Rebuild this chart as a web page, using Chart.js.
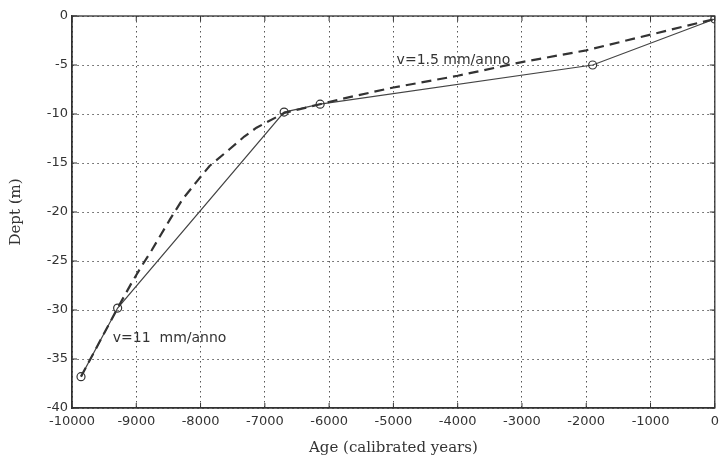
<!DOCTYPE html>
<html>
<head>
<meta charset="utf-8">
<script src="https://cdn.jsdelivr.net/npm/chart.js@4"></script>
<style>
  html, body { margin: 0; padding: 0; background: #fff; }
  #wrap { width: 720px; height: 457px; }
</style>
</head>
<body>
<div id="wrap"><canvas id="age-chart"></canvas></div>
<script>
// sample points (circles) joined by the solid line
const solidAge = [-9860, -9290, -6700, -6140, -1900, 0];
const solidDepth = [-36.8, -29.8, -9.8, -9.0, -5.0, -0.3];

// dashed curve
const dashedAge = [-9860, -9290, -9070, -8915, -8760, -8480, -8280, -8060, -7860, -7550, -7320, -7130, -6700, -6140, -5700, -5000, -4000, -3000, -2000, -1000, 0];
const dashedDepth = [-36.8, -29.8, -27.2, -25.5, -23.9, -20.8, -18.7, -16.9, -15.3, -13.6, -12.3, -11.4, -9.9, -9.0, -8.3, -7.3, -6.1, -4.7, -3.5, -1.9, -0.3];

// rate labels
const noteText = ['v=1.5 mm/anno', 'v=11  mm/anno'];
const noteAge = [-4950, -9365];
const noteDepth = [-4.5, -32.9];

const xTicks = { min: -10000, max: 0, step: 1000 };
const yTicks = { min: -40, max: 0, step: 5 };

const ink = '#333';
const toPoints = (xs, ys) => xs.map((x, i) => ({ x, y: ys[i] }));

// frame round the plot + inward tick marks, then the rate labels
const framePlugin = {
  id: 'frame',
  afterDraw(chart) {
    const { ctx, chartArea: a, scales: { x, y } } = chart;
    ctx.save();
    ctx.strokeStyle = ink;
    ctx.lineWidth = 1.3;
    ctx.strokeRect(a.left, a.top, a.right - a.left, a.bottom - a.top);
    ctx.lineWidth = 1;
    ctx.beginPath();
    x.ticks.forEach(t => {
      const px = x.getPixelForValue(t.value);
      ctx.moveTo(px, a.bottom); ctx.lineTo(px, a.bottom - 5);
      ctx.moveTo(px, a.top); ctx.lineTo(px, a.top + 5);
    });
    y.ticks.forEach(t => {
      const py = y.getPixelForValue(t.value);
      ctx.moveTo(a.left, py); ctx.lineTo(a.left + 5, py);
      ctx.moveTo(a.right, py); ctx.lineTo(a.right - 5, py);
    });
    ctx.stroke();

    ctx.fillStyle = ink;
    ctx.font = '14px "DejaVu Sans"';
    ctx.textBaseline = 'middle';
    ctx.textAlign = 'left';
    noteText.forEach((txt, i) => {
      ctx.fillText(txt, x.getPixelForValue(noteAge[i]), y.getPixelForValue(noteDepth[i]));
    });
    ctx.restore();
  }
};

new Chart(document.getElementById('age-chart'), {
  type: 'scatter',
  data: {
    datasets: [{
      label: 'dashed',
      data: toPoints(dashedAge, dashedDepth),
      showLine: true,
      borderColor: ink,
      borderWidth: 2.2,
      borderDash: [10, 6],
      pointRadius: 0,
      tension: 0
    }, {
      label: 'samples',
      data: toPoints(solidAge, solidDepth),
      showLine: true,
      borderColor: '#444',
      borderWidth: 1.2,
      pointRadius: 4,
      pointBorderWidth: 1.2,
      pointBorderColor: ink,
      pointBackgroundColor: 'rgba(255,255,255,0)',
      tension: 0
    }]
  },
  options: {
    responsive: true,
    maintainAspectRatio: false,
    animation: false,
    layout: { padding: { top: 16, right: 3, left: 0, bottom: 0 } },
    plugins: { legend: { display: false }, tooltip: { enabled: false } },
    scales: {
      x: {
        type: 'linear',
        min: xTicks.min,
        max: xTicks.max,
        // let the last "0" label run off the edge like the scan
        afterFit: s => { s.height = 49; s.paddingRight = 0; },
        ticks: {
          stepSize: xTicks.step,
          color: ink,
          padding: 6,
          maxRotation: 0,
          font: { family: '"DejaVu Sans"', size: 13 },
          callback: v => String(v)
        },
        grid: { color: '#555', lineWidth: 1, drawTicks: false },
        border: { color: ink, width: 1.3, dash: [1.5, 3.5] },
        title: {
          display: true,
          text: 'Age (calibrated years)',
          color: ink,
          padding: { top: 0, bottom: 0 },
          font: { family: '"DejaVu Serif"', size: 15 }
        }
      },
      y: {
        type: 'linear',
        min: yTicks.min,
        max: yTicks.max,
        afterFit: s => { s.width = 72; },
        ticks: {
          stepSize: yTicks.step,
          color: ink,
          padding: 4,
          font: { family: '"DejaVu Sans"', size: 13 },
          callback: v => String(v)
        },
        grid: { color: '#555', lineWidth: 1, drawTicks: false },
        border: { color: ink, width: 1.3, dash: [1.5, 3.5] },
        title: {
          display: true,
          text: 'Dept (m)',
          color: ink,
          padding: { top: 7, bottom: 0 },
          font: { family: '"DejaVu Serif"', size: 15 }
        }
      }
    }
  },
  plugins: [framePlugin]
});
</script>
</body>
</html>
